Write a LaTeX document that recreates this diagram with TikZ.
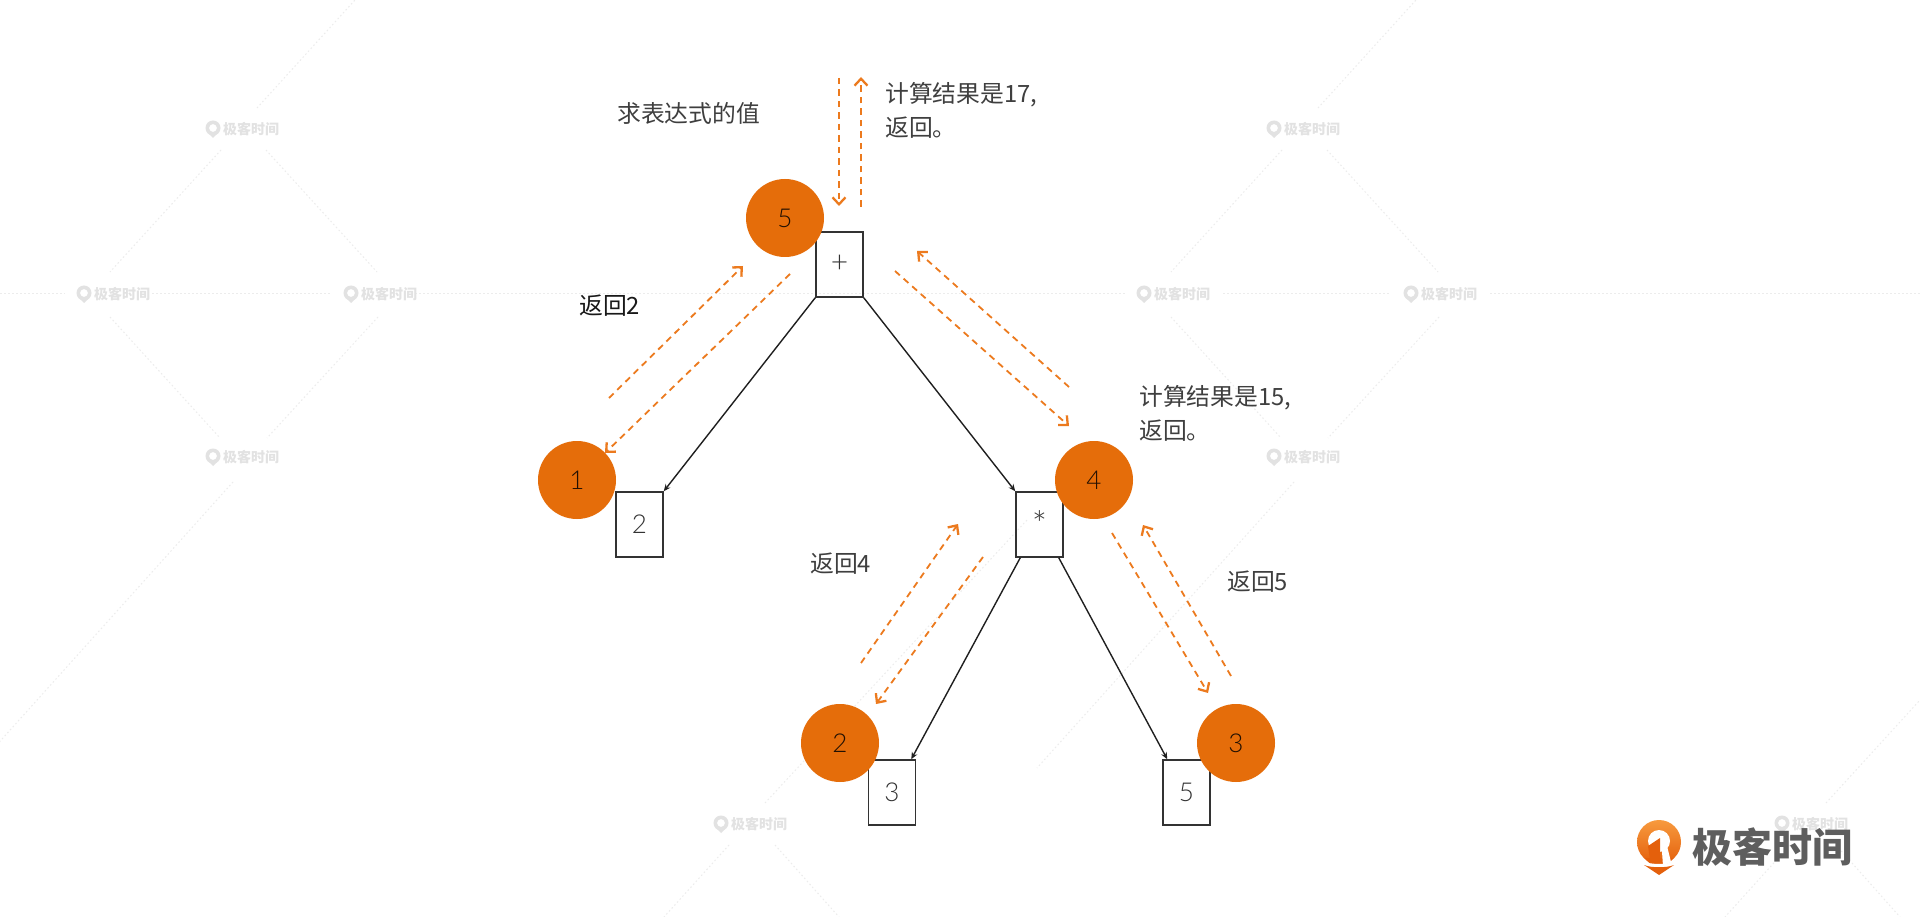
\documentclass[tikz,border=0pt]{standalone}
\usepackage{fontspec}
\usetikzlibrary{arrows.meta,calc}
\setmainfont{Noto Sans CJK SC}
\newfontfamily\digitfont{Lato Light}
\definecolor{orangeA}{HTML}{E56D0A}
\definecolor{dashC}{HTML}{EC7A1E}
\definecolor{txtC}{HTML}{3F3F3F}
\definecolor{wmC}{HTML}{E2E2E2}
\definecolor{wmL}{HTML}{ECECEC}
\definecolor{logoT}{HTML}{F79A3E}
\definecolor{logoB}{HTML}{E4600C}
\definecolor{logoTxt}{HTML}{5E5E5E}
\tikzset{
  x=1pt,y=-1pt,
  tnode/.style={draw=black!80,line width=1.5pt,minimum width=47pt,minimum height=65pt,inner sep=0pt,
     font=\digitfont\fontsize{26}{26}\selectfont,text=black!80},
  order/.style={circle,fill=orangeA,minimum size=78pt,inner sep=0pt,
     font=\digitfont\fontsize{26}{26}\selectfont,text=black!85!orangeA},
  edge/.style={draw=black!88,line width=1.4pt,-{Stealth[length=7pt,width=6pt]}},
  flow/.style={draw=dashC,line width=1.8pt,dash pattern=on 6.5pt off 5pt,
     -{Straight Barb[length=7pt,width=13pt,line width=2.3pt]}},
  lbl/.style={anchor=west,inner sep=0pt,text=txtC,font=\fontsize{23.8}{34}\selectfont,align=left},
  wmtext/.style={inner sep=0pt,text=wmC,font=\bfseries\fontsize{14}{14}\selectfont},
  wmline/.style={draw=wmL,line width=1pt,dash pattern=on 1.5pt off 2.5pt},
}
\begin{document}
\begin{tikzpicture}
\useasboundingbox[fill=white] (0,0) rectangle (1920,917);

% faint watermark lattice
\foreach \dx in {0,1061}{
  \draw[wmline] (257+\dx,108) -- (355+\dx,0);
  \draw[wmline] (221+\dx,150) -- (110+\dx,272);
  \draw[wmline] (266+\dx,150) -- (377+\dx,272);
  \draw[wmline] (110+\dx,317) -- (220+\dx,438);
  \draw[wmline] (378+\dx,317) -- (267+\dx,438);
  \draw[wmline] (233+\dx,482) -- (-24+\dx,768);
  \draw[wmline] (729+\dx,845) -- (664+\dx,917);
  \draw[wmline] (775+\dx,845) -- (839+\dx,917);
}
\draw[wmline] (765,803) -- (1027,520);
\draw[wmline] (1826,803) -- (1920,700);
\foreach \a/\b in {0/65,152/330,415/1125,1223/1390,1490/1920}
  \draw[wmline] (\a,294) -- (\b,294);
\foreach \i/\mx/\my in {a/242/129,b/113/294,c/380/294,d/242/457,e/1303/129,f/1173/294,g/1440/294,h/1303/457,k/750/824,m/1811/824}{
  \fill[wmC,even odd rule] (\mx-29,\my-1) circle[radius=7.5] (\mx-29,\my-1) circle[radius=4];
  \fill[wmC] (\mx-33,\my+5) -- (\mx-25,\my+5) -- (\mx-29,\my+9) -- cycle;
  \node[wmtext,anchor=west] (wm\i) at (\mx-19,\my) {极客时间};
}

% tree nodes
\node[tnode] (plus) at (839.5,264.5) {\raisebox{1pt}{\fontsize{30}{30}\selectfont +}};
\node[tnode] (star) at (1039.5,524.5) {\raisebox{-1pt}{\fontsize{36}{36}\selectfont *}};
\node[tnode] (two) at (639.5,524.5) {2};
\node[tnode] (three) at (892,792.5) {3};
\node[tnode] (five) at (1186.5,792.5) {5};

% tree edges
\draw[edge] (plus.south west) -- (two.north east);
\draw[edge] (plus.south east) -- (star.north west);
\draw[edge] ([xshift=5pt]star.south west) -- ([xshift=-5pt]three.north east);
\draw[edge] ([xshift=-5pt]star.south east) -- ([xshift=5pt]five.north west);

% order badges
\node[order] (o5) at (785,218) {5};
\node[order] (o1) at (577,480) {1};
\node[order] (o4) at (1094,480) {4};
\node[order] (o2) at (840,743) {2};
\node[order] (o3) at (1236,743) {3};

% traversal arrows
\coordinate (a1s) at (839,78);   \coordinate (a1e) at (839,206);
\coordinate (a2s) at (861,207);  \coordinate (a2e) at (861,77);
\coordinate (b1s) at (790,274);  \coordinate (b1e) at (605,453);
\coordinate (b2s) at (609,398);  \coordinate (b2e) at (743,266);
\coordinate (c1s) at (895,271);  \coordinate (c1e) at (1069,426);
\coordinate (c2s) at (1069,387); \coordinate (c2e) at (917,251);
\coordinate (d1s) at (983,557);  \coordinate (d1e) at (876,704);
\coordinate (d2s) at (861,663);  \coordinate (d2e) at (958,524);
\coordinate (e1s) at (1112,533); \coordinate (e1e) at (1208,693);
\coordinate (e2s) at (1231,676); \coordinate (e2e) at (1143,525);
\foreach \p in {a,b,c,d,e}{
  \draw[flow] (\p1s) -- (\p1e);
  \draw[flow] (\p2s) -- (\p2e);
}

% labels
\node[lbl] (t0) at (617,113) {求表达式的值};
\node[lbl] (t1) at (885,110) {计算结果是17,\\返回。};
\node[lbl,text=black!90] (t2) at (579,306) {返回2};
\node[lbl] (t3) at (1139,413) {计算结果是15,\\返回。};
\node[lbl] (t4) at (810,564) {返回4};
\node[lbl] (t5) at (1227,582) {返回5};

% brand logo
\shade[top color=logoT,bottom color=logoB] (1659,842) circle[radius=22];
\fill[logoB] (1644,858) -- (1674,858) -- (1659,872) -- cycle;
\fill[white] (1659,841) circle[radius=11];
\fill[logoB] (1648,846) -- (1660,838) -- (1660,860) -- (1650,860) -- cycle;
\fill[white] (1661,838) -- (1665,838) -- (1671,862) -- (1663,866) -- cycle;
\fill[white] (1635,858) .. controls (1649,866) and (1669,866) .. (1683,858) -- (1683,862) .. controls (1669,870) and (1649,870) .. (1635,862) -- cycle;
\fill[logoB] (1644,865) .. controls (1651,868) and (1667,868) .. (1674,865) -- (1659,875) -- cycle;
\node[inner sep=0pt,anchor=west,text=logoTxt,font=\bfseries\fontsize{40}{40}\selectfont] (brand) at (1692,847) {极客时间};
\end{tikzpicture}
\end{document}
